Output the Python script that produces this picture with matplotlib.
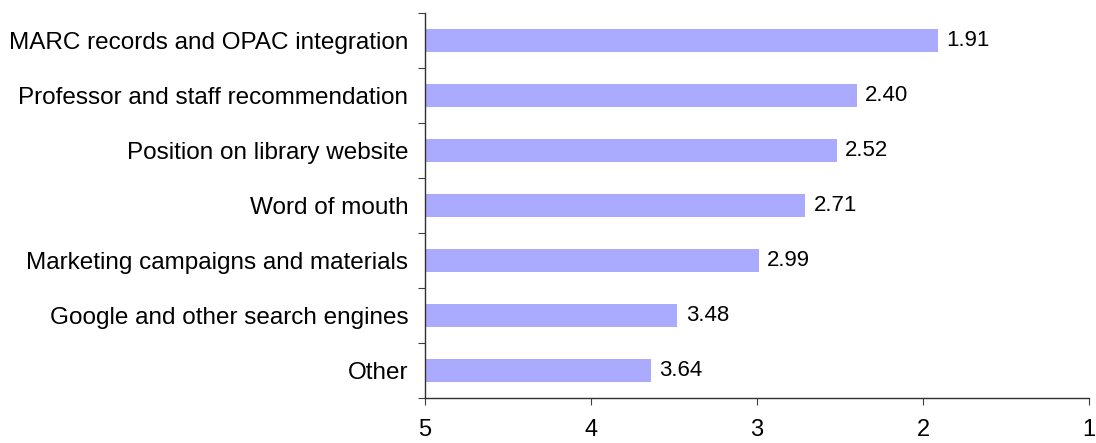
import numpy as np
import matplotlib
matplotlib.use("Agg")
import matplotlib.pyplot as plt

# categories from top to bottom
categories = ['MARC records and OPAC integration',
              'Professor and staff recommendation',
              'Position on library website',
              'Word of mouth',
              'Marketing campaigns and materials',
              'Google and other search engines',
              'Other']
scores = [1.91, 2.40, 2.52, 2.71, 2.99, 3.48, 3.64]
x_ticks = [5, 4, 3, 2, 1]

plt.rcParams['font.family'] = ['Liberation Sans', 'DejaVu Sans']

fig = plt.figure(figsize=(10.96, 4.43), dpi=100)
ax = fig.add_axes([0.3878, 0.1016, 0.9936 - 0.3878, 0.9707 - 0.1016])

n = len(categories)
ypos = np.arange(n)[::-1]
base = 5
widths = [s - base for s in scores]
ax.barh(ypos, widths, left=base, height=0.42, color='#aaaaff', edgecolor='none')

for y, s in zip(ypos, scores):
    ax.annotate(f"{s:.2f}", xy=(s, y), xytext=(6, 0), textcoords='offset points',
                ha='left', va='center', fontsize=16, color='black')

ax.set_xlim(5, 1)
ax.set_ylim(-0.5, n - 0.5)
ax.set_xticks(x_ticks)
ax.set_xticklabels([str(t) for t in x_ticks], fontsize=17)

# boundaries get tick marks, labels sit between them
ax.set_yticks(np.arange(n + 1) - 0.5)
ax.set_yticklabels([])
ax.set_yticks(ypos, minor=True)
ax.set_yticklabels(categories, minor=True, fontsize=17.5)
ax.tick_params(axis='y', which='minor', length=0, pad=12)
ax.tick_params(axis='y', which='major', length=5, color='#404040')
ax.tick_params(axis='x', length=5, color='#404040', pad=10)

for side in ['top', 'right']:
    ax.spines[side].set_visible(False)
for side in ['left', 'bottom']:
    ax.spines[side].set_color('#303030')
    ax.spines[side].set_linewidth(1)

fig.savefig('out.png', dpi=100)
